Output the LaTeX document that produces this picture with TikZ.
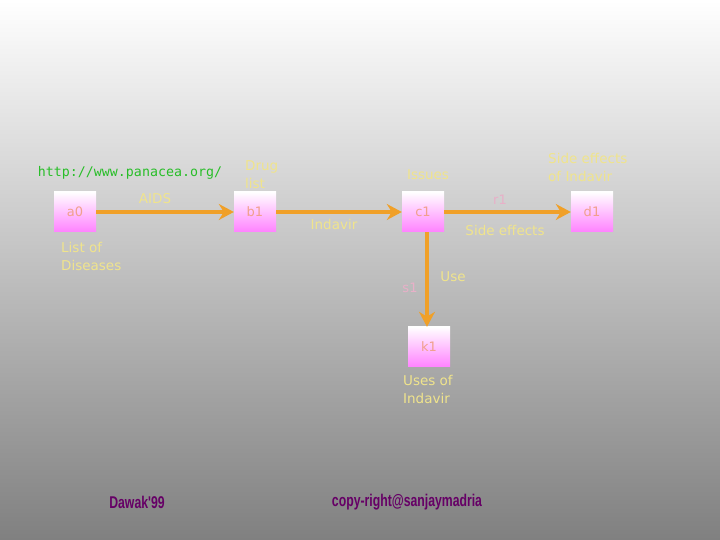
\documentclass[tikz,border=0pt]{standalone}
\usepackage{fontspec}
\usepackage{graphicx}
\setmainfont{DejaVu Sans}
\newfontfamily\urlfont{DejaVu Sans Mono}
\newfontfamily\footfont{Liberation Sans}
\usetikzlibrary{arrows.meta}
\definecolor{lbl}{RGB}{240,228,140}
\definecolor{arr}{RGB}{240,160,40}
\definecolor{boxtxt}{RGB}{240,160,140}
\definecolor{rlbl}{RGB}{232,176,200}
\definecolor{urlgreen}{RGB}{40,190,40}
\definecolor{foot}{RGB}{102,0,102}
\definecolor{boxbot}{RGB}{255,130,255}
\tikzset{
  obj/.style={minimum width=42pt, minimum height=40pt, inner sep=0pt,
    top color=white, bottom color=boxbot, text=boxtxt, font=\fontsize{13}{13}\selectfont},
  lab/.style={text=lbl, font=\fontsize{13.5}{18}\selectfont, inner sep=0pt, align=left},
  rlab/.style={text=rlbl, font=\fontsize{13}{13}\selectfont, inner sep=0pt},
  conn/.style={draw=arr, line width=4pt, -{Stealth[length=15pt,width=16pt,inset=5pt]}},
  footlab/.style={text=foot, inner sep=0pt, font=\footfont\bfseries\fontsize{17}{17}\selectfont}
}
\begin{document}
\begin{tikzpicture}[x=1pt,y=1pt]
\shade[top color=white, bottom color={rgb,255:red,128;green,128;blue,128}] (0,0) rectangle (720,540);
\useasboundingbox (0,0) rectangle (720,540);
\node[obj] (a0) at (75,328) {a0};
\node[obj] (b1) at (255,328) {b1};
\node[obj] (c1) at (423,328) {c1};
\node[obj] (d1) at (592,328) {d1};
\node[obj] (k1) at (429,193) {k1};
\draw[conn] (a0) -- (b1);
\draw[conn] (b1) -- (c1);
\draw[conn] (c1) -- (d1);
\draw[conn] ([xshift=4pt]c1.south) -- ([xshift=-2pt]k1.north);
\node[text=urlgreen, inner sep=0pt, font=\urlfont\fontsize{13.3}{13}\selectfont] (url) at (130,367) {http://www.panacea.org/};
\node[lab] (aids) at (155,341) {AIDS};
\node[lab, anchor=west] (drug) at (245,365) {Drug\\list};
\node[lab, anchor=west] (lod) at (61,284) {List of\\Diseases};
\node[lab] (ind) at (334,316) {Indavir};
\node[lab] (iss) at (428,365) {Issues};
\node[rlab] (r1) at (500,340) {r1};
\node[lab] (se) at (505,310) {Side effects};
\node[lab, anchor=west] (seoi) at (548,373) {Side effects\\of Indavir};
\node[rlab] (s1) at (410,252) {s1};
\node[lab] (use) at (453,263) {Use};
\node[lab, anchor=west] (usesof) at (403,151) {Uses of\\Indavir};
\node[footlab] (dawak) at (137,38) {\scalebox{0.72}[1]{Dawak'99}};
\node[footlab] (copy) at (407,38) {\scalebox{0.72}[1]{copy-right@sanjaymadria}};
\end{tikzpicture}
\end{document}
